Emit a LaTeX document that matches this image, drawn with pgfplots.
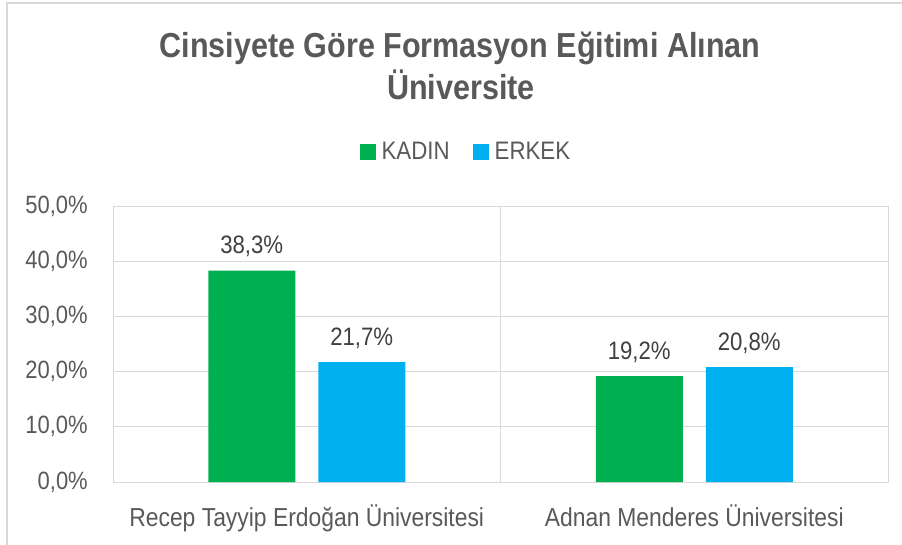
\documentclass[border=0pt]{standalone}
\usepackage{fontspec}
\setmainfont{Liberation Sans}[FakeStretch=0.88]
\usepackage{pgfplots}
\pgfplotsset{compat=1.18}
\definecolor{txt}{HTML}{595959}
\definecolor{lbl}{HTML}{404040}
\definecolor{grd}{HTML}{D9D9D9}
\definecolor{kadin}{HTML}{00B050}
\definecolor{erkek}{HTML}{00B0F0}
\begin{document}
\begin{tikzpicture}[x=1pt,y=1pt]
\useasboundingbox (0,0) rectangle (902,544);
\draw[grd, line width=1.5pt] (7,-20) rectangle (950,541);
\node[txt, anchor=base, inner sep=0pt, font=\fontsize{34.7}{40}\selectfont\bfseries] at (460,486) {Cinsiyete Göre Formasyon Eğitimi Alınan};
\node[txt, anchor=base, inner sep=0pt, font=\fontsize{34.7}{40}\selectfont\bfseries] at (461,444) {Üniversite};
\begin{axis}[
  at={(113pt,62pt)}, anchor=south west,
  width=775pt, height=276pt, scale only axis,
  /pgf/number format/assume math mode=true,
  ybar=23pt, bar width=87pt,
  xmin=-0.5, xmax=1.5, ymin=0, ymax=50,
  xtick={0,1},
  xticklabels={Recep Tayyip Erdoğan Üniversitesi, Adnan Menderes Üniversitesi},
  extra x ticks={0.5}, extra x tick labels={},
  extra x tick style={grid=major},
  ytick={0,10,20,30,40,50},
  yticklabel={\pgfmathprintnumber[fixed,fixed zerofill,precision=1,use comma]{\tick}\%},
  ymajorgrids,
  major grid style={grd, line width=1pt},
  axis line style={grd, line width=1pt},
  major tick length=0pt,
  yticklabel style={anchor=east, inner sep=0pt, xshift=-25pt, text=txt, font=\fontsize{25}{30}\selectfont},
  xticklabel style={anchor=base, inner sep=0pt, yshift=-44pt, text=txt, font=\fontsize{26}{30}\selectfont},
  nodes near coords={\pgfmathprintnumber[fixed,fixed zerofill,precision=1,use comma]{\pgfplotspointmeta}\%},
  nodes near coords style={anchor=base, inner sep=0pt, yshift=17pt, text=lbl, font=\fontsize{25.2}{30}\selectfont},
  legend style={at={(0.456,1.196)}, anchor=center, draw=none, fill=none,
    legend columns=2, text=txt, font=\fontsize{25.3}{30}\selectfont,
    /tikz/every odd column/.append style={column sep=3pt},
    /tikz/every even column/.append style={column sep=20pt},
    nodes={inner sep=3pt}},
]
\addplot[fill=kadin, draw=none, legend image code/.code={\fill[kadin] (0pt,-8pt) rectangle (16pt,8pt);}] coordinates {(0,38.3) (1,19.2)};
\addplot[fill=erkek, draw=none, legend image code/.code={\fill[erkek] (0pt,-8pt) rectangle (16pt,8pt);}] coordinates {(0,21.7) (1,20.8)};
\legend{KADIN, ERKEK}
\end{axis}
\end{tikzpicture}
\end{document}
